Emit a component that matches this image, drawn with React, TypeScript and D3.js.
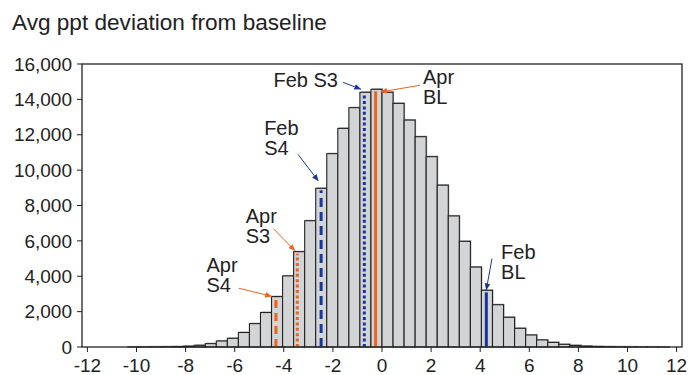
import React from "react";
import * as d3 from "d3";

const title = "Avg ppt deviation from baseline";
const binStart = -10.35;
const binWidth = 0.45;
const counts = [
  5, 6, 10, 15, 25, 45, 95, 190, 340, 490, 820, 1320, 1950, 2850, 4020, 5390,
  7140, 8970, 10930, 12360, 13530, 14400, 14570, 14400, 13775, 12830, 11890,
  10760, 9150, 7410, 5975, 4520, 3205, 2390, 1680, 1057, 680, 400, 260, 150,
  90, 50, 30, 20, 12, 8, 5, 4, 3,
];
const xTicks = [-12, -10, -8, -6, -4, -2, 0, 2, 4, 6, 8, 10, 12];
const yTicks = [0, 2000, 4000, 6000, 8000, 10000, 12000, 14000, 16000];

type Marker = {
  name: string[];
  value: number;
  color: string;
  dash: string;
  labelX: number;
  labelY: number;
  arrowFrom: [number, number];
  arrowTo: [number, number];
};

const ORANGE = "#EF621E";
const BLUE = "#17369C";

const markers: Marker[] = [
  { name: ["Apr", "S4"], value: -4.32, color: ORANGE, dash: "8,5", labelX: -7.15, labelY: 4260, arrowFrom: [-5.83, 3320], arrowTo: [-4.5, 2870] },
  { name: ["Apr", "S3"], value: -3.45, color: ORANGE, dash: "3,2.4", labelX: -5.55, labelY: 7020, arrowFrom: [-4.43, 6700], arrowTo: [-3.55, 5450] },
  { name: ["Feb", "S4"], value: -2.48, color: BLUE, dash: "9,5", labelX: -4.8, labelY: 12010, arrowFrom: [-3.42, 10890], arrowTo: [-2.6, 9400] },
  { name: ["Feb S3"], value: -0.72, color: BLUE, dash: "3,2.4", labelX: -4.42, labelY: 14680, arrowFrom: [-1.58, 14960], arrowTo: [-0.87, 14580] },
  { name: ["Apr", "BL"], value: -0.26, color: ORANGE, dash: "none", labelX: 1.67, labelY: 14860, arrowFrom: [1.55, 14800], arrowTo: [-0.05, 14420] },
  { name: ["Feb", "BL"], value: 4.25, color: BLUE, dash: "none", labelX: 4.85, labelY: 5000, arrowFrom: [4.48, 5000], arrowTo: [4.25, 3240] },
];

export default function App() {
  const W = 699;
  const H = 375;
  const x = d3.scaleLinear().domain([-12.22, 12.22]).range([82, 682]);
  const y = d3.scaleLinear().domain([0, 16000]).range([347, 64]);
  const font = "'Liberation Sans', Arial, sans-serif";

  const bars = counts.map((c, i) => ({
    x0: binStart + i * binWidth,
    x1: binStart + (i + 1) * binWidth,
    c,
  }));

  const binIdx = (v: number) => Math.floor((v - binStart) / binWidth);

  return (
    <svg
      width={W}
      height={H}
      style={{ position: "absolute", left: 0, top: 0, background: "#fff" }}
      fontFamily={font}
    >
      <defs>
        <marker id="ahO" viewBox="0 0 10 10" refX="9" refY="5" markerWidth="7" markerHeight="7" orient="auto-start-reverse" markerUnits="userSpaceOnUse">
          <path d="M0,1 L10,5 L0,9 z" fill={ORANGE} />
        </marker>
        <marker id="ahB" viewBox="0 0 10 10" refX="9" refY="5" markerWidth="7" markerHeight="7" orient="auto-start-reverse" markerUnits="userSpaceOnUse">
          <path d="M0,1 L10,5 L0,9 z" fill={BLUE} />
        </marker>
      </defs>

      <text x={12} y={29.5} fontSize={22.6} fill="#222">
        {title}
      </text>

      {bars.map((b, i) => (
        <rect
          key={"s" + i}
          x={x(b.x0) + 1}
          y={y(b.c) - 1}
          width={x(b.x1) - x(b.x0)}
          height={y(0) - y(b.c)}
          fill="#a8a8a8"
        />
      ))}
      {bars.map((b, i) => (
        <rect
          key={"b" + i}
          x={x(b.x0)}
          y={y(b.c)}
          width={x(b.x1) - x(b.x0)}
          height={y(0) - y(b.c)}
          fill="#d3d4d6"
          stroke="#222"
          strokeWidth={1.1}
        />
      ))}

      {markers.map((m, i) => {
        const top = y(counts[binIdx(m.value)]) + 2;
        return (
          <line
            key={"m" + i}
            x1={x(m.value)}
            x2={x(m.value)}
            y1={y(0)}
            y2={top}
            stroke={m.color}
            strokeWidth={3}
            strokeDasharray={m.dash}
          />
        );
      })}

      <rect x={82} y={64} width={600} height={283} fill="none" stroke="#222" strokeWidth={1.3} />

      {yTicks.map((t) => (
        <g key={"y" + t}>
          <line x1={77} x2={82} y1={y(t)} y2={y(t)} stroke="#222" strokeWidth={1} />
          <text x={72} y={y(t)} dy="0.35em" textAnchor="end" fontSize={19} fill="#222">
            {d3.format(",")(t)}
          </text>
        </g>
      ))}
      {xTicks.map((t) => (
        <g key={"x" + t}>
          <line x1={x(t)} x2={x(t)} y1={347} y2={352} stroke="#222" strokeWidth={1} />
          <text x={x(t)} y={371.5} textAnchor="middle" fontSize={19} fill="#222">
            {t < 0 ? "-" + Math.abs(t) : String(t)}
          </text>
        </g>
      ))}

      {markers.map((m, i) => (
        <g key={"a" + i}>
          <text x={x(m.labelX)} y={y(m.labelY)} fontSize={20} fill="#222">
            {m.name.map((s, j) => (
              <tspan key={j} x={x(m.labelX)} dy={j === 0 ? 0 : 20}>
                {s}
              </tspan>
            ))}
          </text>
          <line
            x1={x(m.arrowFrom[0])}
            y1={y(m.arrowFrom[1])}
            x2={x(m.arrowTo[0])}
            y2={y(m.arrowTo[1])}
            stroke={m.color}
            strokeWidth={1}
            markerEnd={m.color === ORANGE ? "url(#ahO)" : "url(#ahB)"}
          />
        </g>
      ))}
    </svg>
  );
}
